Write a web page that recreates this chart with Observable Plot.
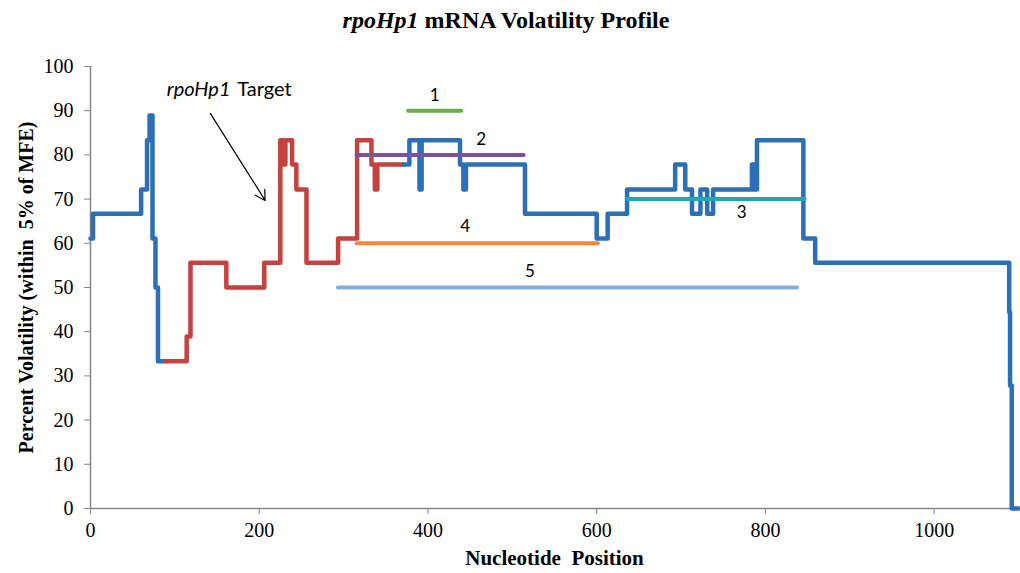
<!DOCTYPE html>
<html>
<head>
<meta charset="utf-8">
<script src="https://cdn.jsdelivr.net/npm/d3@7"></script>
<script src="https://cdn.jsdelivr.net/npm/@observablehq/plot@0.6"></script>
<style>
  html, body { margin: 0; padding: 0; background: #fff; }
  #title { height: 45px; box-sizing: border-box; padding-top: 6px; text-align: center; padding-right: 8px;
    font-family: "Liberation Serif", "Times New Roman", serif; font-weight: bold; font-size: 24px; line-height: 28px; color: #000; }
  g[aria-label="y-axis label"] text { font-weight: bold; font-size: 20px; }
  g[aria-label="x-axis label"] text { font-weight: bold; font-size: 21px; }
</style>
</head>
<body>
<div id="title"><i>rpoHp1</i> mRNA Volatility Profile</div>
<div id="chart"></div>
<script>
// Main profile, first blue part
const blueStartX = [0, 3, 60, 67, 70, 73.5, 77, 80, 89];
const blueStartY = [61.1, 66.7, 72.2, 83.3, 88.9, 61.1, 50, 33.3, 33.3];
// Target region (red)
const redX = [89, 114, 118.5, 161, 206, 225, 228.5, 231, 239, 244, 256, 293.5, 316, 333, 337, 340, 371];
const redY = [33.3, 38.9, 55.6, 50, 55.6, 83.3, 77.8, 83.3, 77.8, 72.2, 55.6, 61.1, 83.3, 77.8, 72.2, 77.8, 77.8];
// Main profile, second blue part
const blueEndX = [371, 378, 390, 392.5, 438, 442, 445, 515, 600, 613, 636, 693, 705, 713, 723, 731, 738, 784, 787, 790, 845, 859, 1089, 1090, 1092, 1094, 1100];
const blueEndY = [77.8, 83.3, 72.2, 83.3, 77.8, 72.2, 77.8, 66.7, 61.1, 66.7, 72.2, 77.8, 72.2, 66.7, 72.2, 66.7, 72.2, 77.8, 72.2, 83.3, 61.1, 55.6, 44.4, 27.8, 0, 0, 0];

// Numbered windows
const segNames = ["1", "2", "3", "4", "5"];
const segStart = [377, 316, 637, 316, 294];
const segEnd = [440, 514, 847, 602, 838];
const segLevel = [90, 80, 70, 60, 50];
const segColors = ["#6aaf46", "#7a559c", "#1fa8b4", "#f5883a", "#86abdc"];
const segLabelX = [408, 463, 772, 444, 521];
const segLabelY = [93.5, 83.5, 67, 63.7, 53.7];

// Annotation
const annotText = ["rpoHp1", "Target"];
const annotX = [166, 174];
const annotY = 94.8;
const arrowFrom = [142, 89.4];
const arrowTo = [207, 69.7];

const xTicks = [0, 200, 400, 600, 800, 1000];
const yTicks = [0, 10, 20, 30, 40, 50, 60, 70, 80, 90, 100];

const profile = [
  ...blueStartX.map((x, i) => ({x, y: blueStartY[i], part: "a", color: "#2b70b6"})),
  ...redX.map((x, i) => ({x, y: redY[i], part: "b", color: "#c4423f"})),
  ...blueEndX.map((x, i) => ({x, y: blueEndY[i], part: "c", color: "#2b70b6"}))
];
const segs = segNames.map((n, i) => ({n, x1: segStart[i], x2: segEnd[i], y: segLevel[i], c: segColors[i], lx: segLabelX[i], ly: segLabelY[i]}));

const chart = Plot.plot({
  width: 1020,
  height: 528,
  marginTop: 21,
  marginBottom: 65,
  marginLeft: 90,
  marginRight: 2,
  style: { fontFamily: "'Liberation Serif', 'Times New Roman', serif", fontSize: "20px", color: "#000", background: "#fff" },
  x: { domain: [0, 1100] },
  y: { domain: [0, 100] },
  marks: [
    Plot.axisX({ ticks: xTicks, tickFormat: d => String(d), tickSize: 6, tickPadding: 8, stroke: "#868686", label: "Nucleotide  Position", labelAnchor: "center", labelArrow: "none", labelOffset: 56 }),
    Plot.axisY({ ticks: yTicks, tickSize: 6, tickPadding: 11, stroke: "#868686", label: "Percent Volatility (within  5% of MFE)", labelAnchor: "center", labelArrow: "none", labelOffset: 72 }),
    Plot.ruleX([0], { stroke: "#868686", strokeWidth: 1.5 }),
    Plot.ruleY([0], { stroke: "#868686", strokeWidth: 1.5 }),
    Plot.line(profile, { x: "x", y: "y", z: "part", stroke: "color", strokeWidth: 4.5, curve: "step-after", strokeLinejoin: "round", strokeLinecap: "round" }),
    Plot.ruleY(segs, { y: "y", x1: "x1", x2: "x2", stroke: "c", strokeWidth: 4, strokeLinecap: "round" }),
    Plot.text(segs, { x: "lx", y: "ly", text: "n", fontFamily: "Lato, 'Open Sans', sans-serif", fontSize: 17, fill: "#000" }),
    Plot.text([annotText[0]], { x: annotX[0], y: annotY, text: d => d, textAnchor: "end", fontStyle: "italic", fontFamily: "Lato, 'Open Sans', sans-serif", fontSize: 20, fill: "#000" }),
    Plot.text([annotText[1]], { x: annotX[1], y: annotY, text: d => d, textAnchor: "start", fontFamily: "Lato, 'Open Sans', sans-serif", fontSize: 20, fill: "#000" }),
    Plot.arrow([{}], { x1: arrowFrom[0], y1: arrowFrom[1], x2: arrowTo[0], y2: arrowTo[1], stroke: "#000", strokeWidth: 1.2, headLength: 14 })
  ]
});
document.getElementById("chart").appendChild(chart);
</script>
</body>
</html>
